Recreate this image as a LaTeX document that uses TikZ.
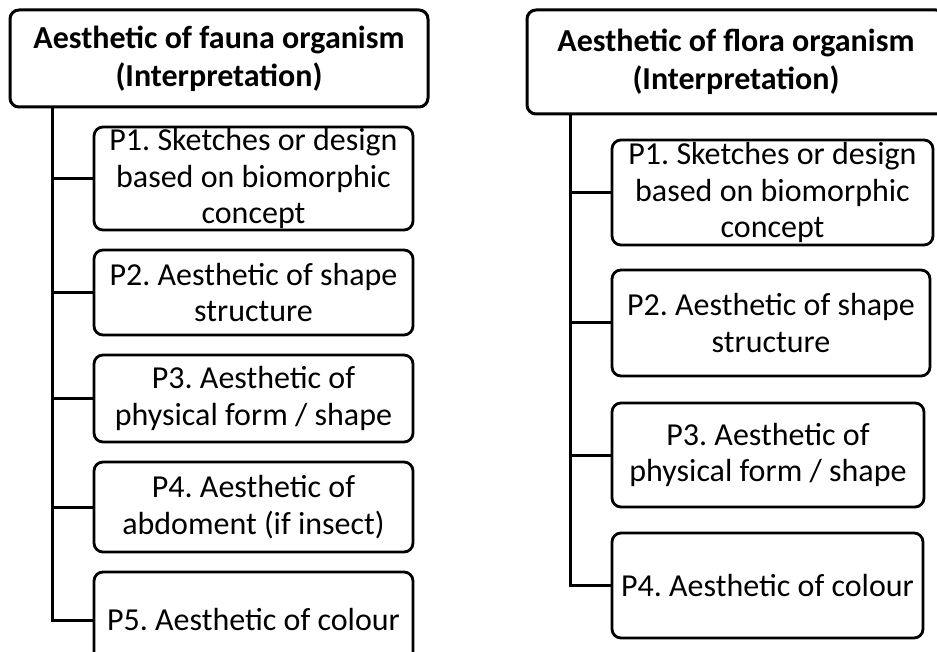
\documentclass[tikz,border=0pt]{standalone}
\usepackage{fontspec}
\setmainfont{Carlito}
\frenchspacing
\usetikzlibrary{positioning}
\tikzset{
  headbox/.style={draw, line width=3pt, rounded corners=9pt, align=center,
    inner sep=0pt, outer sep=0pt, minimum width=418pt,
    font=\fontsize{32}{38.3}\selectfont\bfseries},
  itembox/.style={draw, line width=2.8pt, rounded corners=9pt, align=center,
    inner sep=0pt, outer sep=0pt, font=\fontsize{32}{36.6}\selectfont},
  branch/.style={line width=3pt}
}

\begin{document}
\begin{tikzpicture}[x=1pt, y=-1pt]
  \useasboundingbox (0,0) rectangle (937,652);

  % START: Fauna -----------------------------------
  \node[headbox, minimum height=97pt] (hdL) at (219,58.5)
    {Aesthetic of fauna organism\\(Interpretation)};
  \node[itembox, minimum width=319pt, minimum height=103pt] (p1L) at (253.5,178.5)
    {P1. Sketches or design\\based on biomorphic\\concept};
  \node[itembox, minimum width=319pt, minimum height=85pt, below=20pt of p1L] (p2L)
    {P2. Aesthetic of shape\\structure};
  \node[itembox, minimum width=319pt, minimum height=87pt, below=20pt of p2L] (p3L)
    {P3. Aesthetic of\\physical form / shape};
  \node[itembox, minimum width=319pt, minimum height=90pt, below=20pt of p3L] (p4L)
    {P4. Aesthetic of\\abdoment (if insect)};
  \node[itembox, minimum width=319pt, minimum height=96pt, below=20pt of p4L] (p5L)
    {P5. Aesthetic of colour};

  \coordinate (tL) at (52,107);
  \draw[branch] (tL) |- (p5L.west);
  \foreach \n in {p1L,p2L,p3L,p4L}
    \draw[branch] (tL |- \n.west) -- (\n.west);
  % END: Fauna -------------------------------------

  % START: Flora -----------------------------------
  \node[headbox, minimum height=104pt] (hdR) at (736,62)
    {Aesthetic of flora organism\\(Interpretation)};
  \node[itembox, minimum width=321pt, minimum height=105pt] (p1R) at (772.5,192.5)
    {P1. Sketches or design\\based on biomorphic\\concept};
  \node[itembox, minimum width=318pt, minimum height=106pt, anchor=north west]
    (p2R) at (612,270) {P2. Aesthetic of shape\\structure};
  \node[itembox, minimum width=312pt, minimum height=104pt, anchor=north west]
    (p3R) at (612,403) {P3. Aesthetic of\\physical form / shape};
  \node[itembox, minimum width=311pt, minimum height=105pt, anchor=north west]
    (p4R) at (612,533) {P4. Aesthetic of colour};

  \coordinate (tR) at (570,114);
  \draw[branch] (tR) |- (p4R.west);
  \foreach \n in {p1R,p2R,p3R}
    \draw[branch] (tR |- \n.west) -- (\n.west);
  % END: Flora -------------------------------------
\end{tikzpicture}
\end{document}
